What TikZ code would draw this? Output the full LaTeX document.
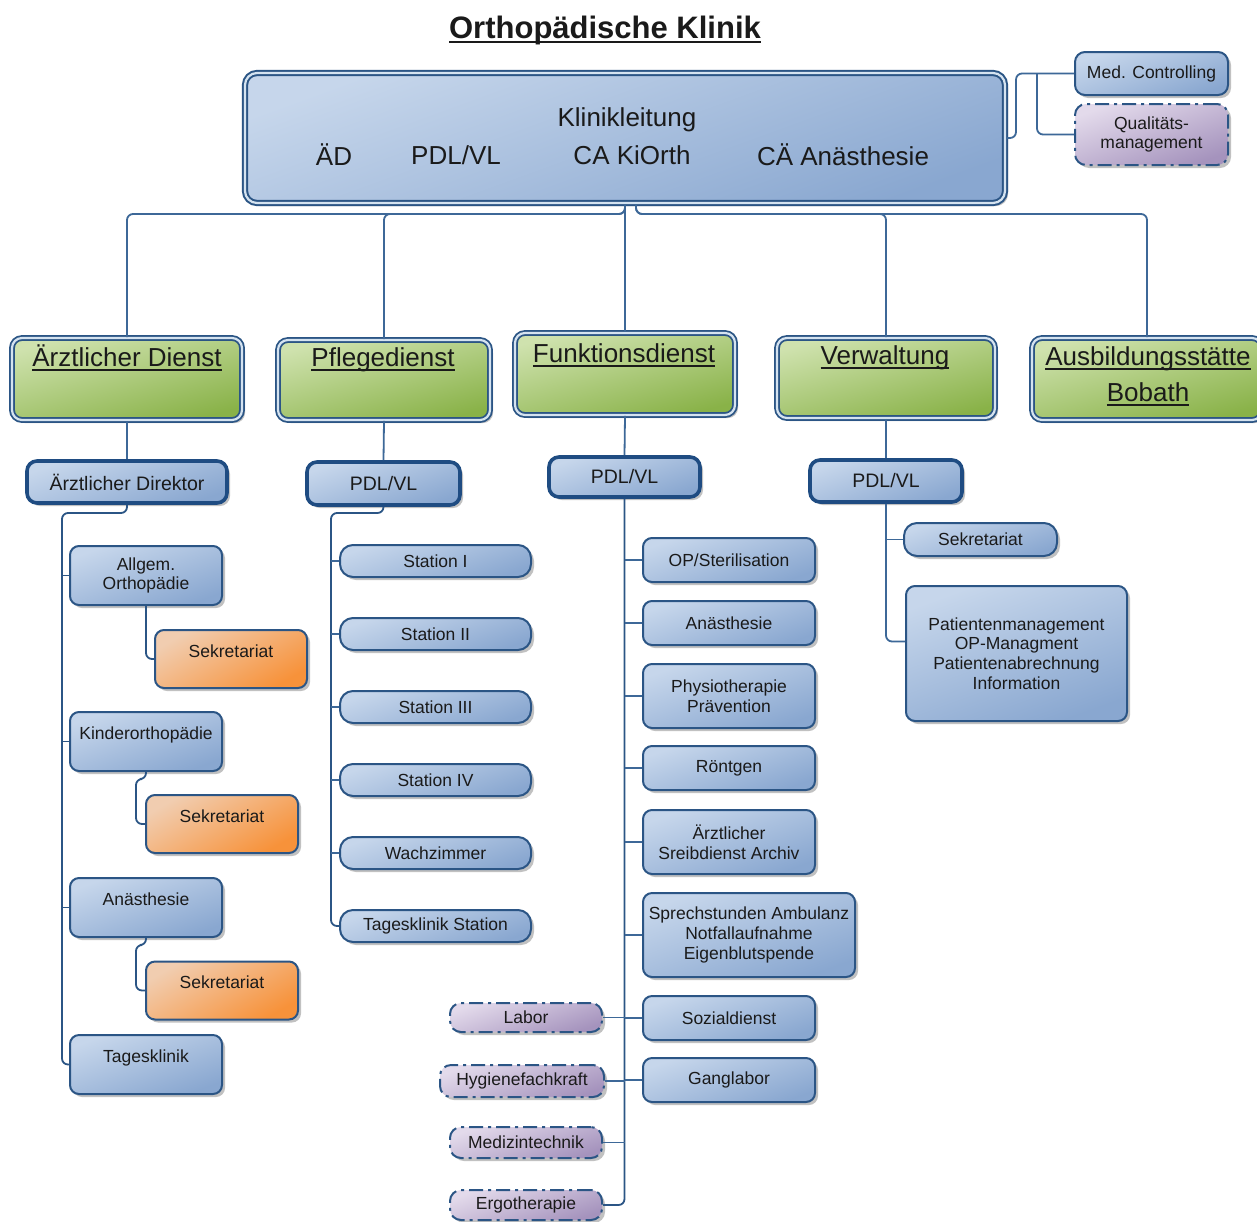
\documentclass[tikz,border=0pt]{standalone}
\usepackage{fontspec}
\setmainfont{Liberation Sans}
\usetikzlibrary{shadows,calc}
\definecolor{bdark}{HTML}{2B5585}
\definecolor{bdeep}{HTML}{1F4C82}
\definecolor{connc}{HTML}{3D6898}
\definecolor{blA}{HTML}{C6D6EB}
\definecolor{blB}{HTML}{89A7D0}
\definecolor{grA}{HTML}{CFE2AE}
\definecolor{grB}{HTML}{89B248}
\definecolor{orA}{HTML}{F1CDB0}
\definecolor{orB}{HTML}{F7923A}
\definecolor{puA}{HTML}{E3DAEB}
\definecolor{puB}{HTML}{A593BD}
\definecolor{txt}{HTML}{1A1A1A}
\definecolor{dbl}{HTML}{D5E3F0}
\newcommand\myul[2][0.065em]{\setbox0\hbox{#2}\rlap{\rule[-0.16em]{\wd0}{#1}}\box0}
\tikzset{
  basebox/.style={draw=bdark, line width=2pt, rounded corners=9pt, text=txt, align=center, inner sep=0pt,
    drop shadow={shadow xshift=3pt, shadow yshift=-3pt, opacity=0.4, fill=black!60}},
  sm/.style={font=\fontsize{17.5}{19.5}\selectfont},
  bbox/.style={basebox, top color=blA, bottom color=blB, shading angle=20, sm},
  raised/.style={text depth=16pt},
  kbox/.style={bbox, double=dbl, double distance=2.2pt, line width=2pt, rounded corners=12pt},
  lvlbox/.style={bbox, draw=bdeep, line width=3.6pt, rounded corners=10pt, font=\fontsize{19.5}{22}\selectfont},
  pillbox/.style={bbox, rounded corners=13pt},
  gbox/.style={basebox, double=dbl, double distance=2.2pt, line width=1.8pt, top color=grA, bottom color=grB, shading angle=15, rounded corners=10pt},
  gtext/.style={font=\fontsize{26}{36}\selectfont, text=txt, inner sep=0pt, align=center},
  bigtext/.style={font=\fontsize{26}{30}\selectfont, text=txt, inner sep=0pt},
  obox/.style={bbox, top color=orA, bottom color=orB, shading angle=30, raised},
  pbox/.style={basebox, top color=puA, bottom color=puB, shading angle=20, dash pattern=on 14pt off 5pt on 3pt off 5pt, rounded corners=11pt, sm},
  conn/.style={draw=connc, line width=1.8pt, rounded corners=6pt}
}
\begin{document}
\begin{tikzpicture}[x=1pt,y=-1pt]
\useasboundingbox (0,0) rectangle (1257,1221);
\fill[white] (0,0) rectangle (1257,1221);

% title
\node[font=\fontsize{31}{36}\selectfont\bfseries, text=txt, inner sep=0pt] (title) at (605,30) {\myul[0.075em]{Orthopädische Klinik}};

% Klinikleitung
\node[kbox, minimum width=760pt, minimum height=130pt] (kl) at (625,138) {};
\node[bigtext] (klt) at (627,120) {Klinikleitung};
\node[bigtext] (k1) at (334,155) {ÄD};
\node[bigtext] (k2) at (456,155) {PDL/VL};
\node[bigtext] (k3) at (632,155) {CA KiOrth};
\node[bigtext] (k4) at (843,155) {CÄ Anästhesie};

\node[bbox, minimum width=153pt, minimum height=43pt, rounded corners=10pt] (mc) at (1151.5,73.5) {Med. Controlling};
\node[pbox, minimum width=153pt, minimum height=61pt] (qm) at (1151.5,134.5) {Qualitäts-\\management};

% green level
\node[gbox, minimum width=230pt, minimum height=82pt] (ad) at (127,379) {};
\node[gtext] (adt) at (127,358) {\myul{Ärztlicher Dienst}};
\node[gbox, minimum width=212pt, minimum height=80pt] (pd) at (384,380) {};
\node[gtext] (pdt) at (383,360) {\myul{Pflegedienst}};
\node[gbox, minimum width=220pt, minimum height=82pt] (fd) at (625,374) {};
\node[gtext] (fdt) at (624,355) {\myul{Funktionsdienst}};
\node[gbox, minimum width=218pt, minimum height=80pt] (vw) at (886,378) {};
\node[gtext] (vwt) at (885,358) {\myul{Verwaltung}};
\node[gbox, minimum width=230pt, minimum height=82pt] (ab) at (1147,379) {};
\node[gtext] (abt) at (1148,376) {\myul{Ausbildungsstätte}\\\myul{Bobath}};

% level 3
\node[lvlbox, minimum width=200pt, minimum height=42pt] (dir) at (127,482) {Ärztlicher Direktor};
\node[lvlbox, minimum width=153pt, minimum height=43pt] (ppdl) at (383.5,483.5) {PDL/VL};
\node[lvlbox, minimum width=151pt, minimum height=40pt] (fpdl) at (624.5,477) {PDL/VL};
\node[lvlbox, minimum width=152pt, minimum height=42pt] (vpdl) at (886,481) {PDL/VL};

% Aerztlicher Dienst column
\node[bbox, minimum width=152pt, minimum height=59pt] (ao) at (146,575.5) {Allgem.\\Orthopädie};
\node[obox, minimum width=152pt, minimum height=58pt] (sek1) at (231,659) {Sekretariat};
\node[bbox, raised, minimum width=152pt, minimum height=59pt] (kin) at (146,741.5) {Kinderorthopädie};
\node[obox, minimum width=152pt, minimum height=58pt] (sek2) at (222,824) {Sekretariat};
\node[bbox, raised, minimum width=152pt, minimum height=59pt] (an) at (146,907.5) {Anästhesie};
\node[obox, minimum width=152pt, minimum height=58pt] (sek3) at (222,990.5) {Sekretariat};
\node[bbox, raised, minimum width=152pt, minimum height=59pt] (tk) at (146,1064.5) {Tagesklinik};

% Pflegedienst column
\node[pillbox, minimum width=191pt, minimum height=32pt] (s1) at (435.5,561) {Station I};
\node[pillbox, minimum width=191pt, minimum height=32pt] (s2) at (435.5,634) {Station II};
\node[pillbox, minimum width=191pt, minimum height=32pt] (s3) at (435.5,707) {Station III};
\node[pillbox, minimum width=191pt, minimum height=32pt] (s4) at (435.5,780) {Station IV};
\node[pillbox, minimum width=191pt, minimum height=32pt] (s5) at (435.5,853) {Wachzimmer};
\node[pillbox, minimum width=191pt, minimum height=32pt] (ts) at (435.5,926) {Tagesklinik Station};

% Funktionsdienst column
\node[bbox, minimum width=172pt, minimum height=44pt] (op) at (729,560) {OP/Sterilisation};
\node[bbox, minimum width=172pt, minimum height=44pt] (fan) at (729,623) {Anästhesie};
\node[bbox, minimum width=172pt, minimum height=64pt] (phy) at (729,696) {Physiotherapie\\Prävention};
\node[bbox, minimum width=172pt, minimum height=44pt] (rt) at (729,768) {Röntgen};
\node[bbox, minimum width=172pt, minimum height=64pt] (arch) at (729,842) {Ärztlicher\\Sreibdienst Archiv};
\node[bbox, minimum width=212pt, minimum height=84pt, font=\fontsize{17.5}{20}\selectfont] (spr) at (749,935) {Sprechstunden Ambulanz\\Notfallaufnahme\\Eigenblutspende};
\node[bbox, minimum width=172pt, minimum height=44pt] (soz) at (729,1018) {Sozialdienst};
\node[bbox, minimum width=172pt, minimum height=44pt] (gang) at (729,1080) {Ganglabor};

\node[pbox, minimum width=152pt, minimum height=29pt] (lab) at (526,1017.5) {Labor};
\node[pbox, minimum width=164pt, minimum height=32pt] (hyg) at (522,1081) {Hygienefachkraft};
\node[pbox, minimum width=152pt, minimum height=31pt] (med) at (526,1142.5) {Medizintechnik};
\node[pbox, minimum width=152pt, minimum height=30pt] (erg) at (526,1205) {Ergotherapie};

% Verwaltung column
\node[bbox, minimum width=153pt, minimum height=33pt, rounded corners=13pt] (vsek) at (980.5,539.5) {Sekretariat};
\node[bbox, minimum width=221pt, minimum height=135pt, font=\fontsize{17.5}{19.7}\selectfont] (pm) at (1016.5,653.5) {Patientenmanagement\\OP-Managment\\Patientenabrechnung\\Information};

% connectors top
\draw[conn] (kl.south) -- ++(0,10) -| (ad.north);
\draw[conn] (kl.south) -- ++(0,10) -| (pd.north);
\draw[conn] (kl.south) -- (fd.north);
\draw[conn] ([xshift=11pt]kl.south) -- ++(0,10) -| (vw.north);
\draw[conn] ([xshift=11pt]kl.south) -- ++(0,10) -| (ab.north);
\draw[conn] (kl.east) -- ++(10,0) |- (mc.west);
\coordinate (qj) at (1037,73.5);
\draw[conn] (qj) |- (qm.west);

\draw[conn] (ad.south) -- (dir.north);
\draw[conn] (pd.south) -- (ppdl.north);
\draw[conn] (fd.south) -- (fpdl.north);
\draw[conn] (vw.south) -- (vpdl.north);

% Aerztlicher trunk
\coordinate (atr) at (62,513);
\draw[conn, draw=bdark] (dir.south) |- (atr) |- (tk.west);
\draw[conn, draw=bdark] (atr |- ao.west) -- (ao.west);
\draw[conn, draw=bdark] (atr |- kin.west) -- (kin.west);
\draw[conn, draw=bdark] (atr |- an.west) -- (an.west);
\draw[conn, draw=bdark] (ao.south) |- (sek1.west);
\draw[conn, draw=bdark] (kin.south) -- ++(0,7) -| ([xshift=-9pt]sek2.west) -- (sek2.west);
\draw[conn, draw=bdark] (an.south) -- ++(0,7) -| ([xshift=-9pt]sek3.west) -- (sek3.west);

% Pflege trunk
\coordinate (ptr) at (331,513);
\draw[conn, draw=bdark] (ppdl.south) |- (ptr) |- (ts.west);
\draw[conn] (ptr |- s1.west) -- (s1.west);
\draw[conn] (ptr |- s2.west) -- (s2.west);
\draw[conn] (ptr |- s3.west) -- (s3.west);
\draw[conn] (ptr |- s4.west) -- (s4.west);
\draw[conn] (ptr |- s5.west) -- (s5.west);

% Funktions trunk
\draw[conn, draw=bdark] (fpdl.south) |- (erg.east);
\draw[conn] (fpdl.south |- op.west) -- (op.west);
\draw[conn] (fpdl.south |- fan.west) -- (fan.west);
\draw[conn] (fpdl.south |- phy.west) -- (phy.west);
\draw[conn] (fpdl.south |- rt.west) -- (rt.west);
\draw[conn] (fpdl.south |- arch.west) -- (arch.west);
\draw[conn] (fpdl.south |- spr.west) -- (spr.west);
\draw[conn] (fpdl.south |- soz.west) -- (soz.west);
\draw[conn] (fpdl.south |- gang.west) -- (gang.west);
\draw[conn] (fpdl.south |- lab.east) -- (lab.east);
\draw[conn] (fpdl.south |- hyg.east) -- (hyg.east);
\draw[conn] (fpdl.south |- med.east) -- (med.east);

% Verwaltung trunk
\draw[conn] (vpdl.south) |- ([yshift=12pt]pm.west);
\draw[conn] (vpdl.south |- vsek.west) -- (vsek.west);
\end{tikzpicture}
\end{document}
